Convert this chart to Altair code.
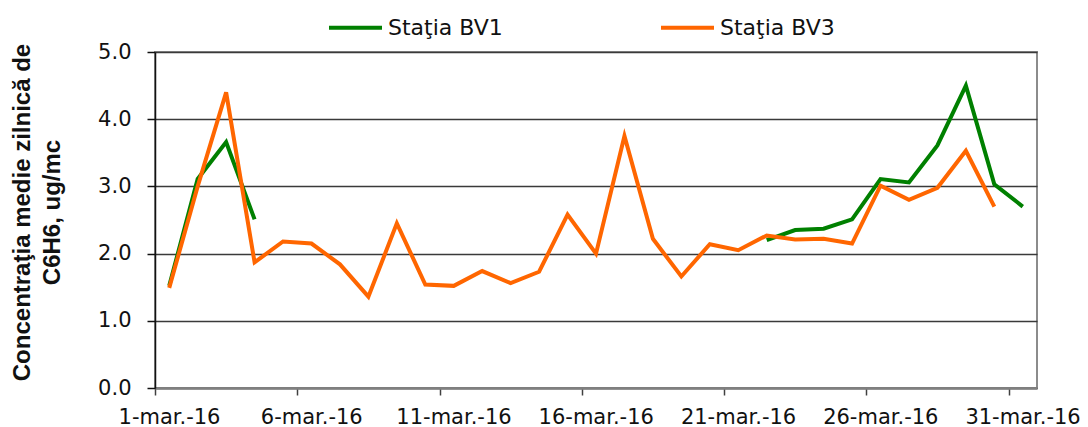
import altair as alt
import pandas as pd

days = list(range(1, 32))
bv1 = [1.52, 3.11, 3.66, 2.51,
       None, None, None, None, None, None, None, None, None, None,
       None, None, None, None, None, None, None,
       2.20, 2.35, 2.37, 2.51, 3.11, 3.06, 3.61, 4.50, 3.03, 2.70]
bv3 = [1.49, 3.00, 4.40, 1.87, 2.18, 2.15, 1.84, 1.36, 2.45, 1.54,
       1.52, 1.74, 1.56, 1.73, 2.58, 2.00, 3.75, 2.22, 1.66, 2.14, 2.05,
       2.27, 2.21, 2.22, 2.15, 3.01, 2.80, 2.98, 3.53, 2.70, None]
series_names = ["Staţia BV1", "Staţia BV3"]
series_colors = ["#008000", "#ff6600"]
tick_days = [1, 6, 11, 16, 21, 26, 31]
y_ticks = [0, 1, 2, 3, 4, 5]
y_title = ["Concentraţia medie zilnică de", "C6H6, ug/mc"]

rows = []
for name, vals in zip(series_names, [bv1, bv3]):
    seg = 0
    prev = None
    for d, v in zip(days, vals):
        if v is None:
            prev = None
            continue
        if prev is None:
            seg += 1
        rows.append({"day": d, "value": v, "series": name, "seg": f"{name}-{seg}"})
        prev = v
df = pd.DataFrame(rows)

FONT = "DejaVu Sans"

chart = alt.Chart(df).transform_calculate(
    t="utc(2016, 2, datum.day, 12)"
).mark_line(strokeWidth=4).encode(
    x=alt.X(
        "t:T",
        scale=alt.Scale(
            type="utc",
            domain=[alt.DateTime(year=2016, month=3, date=1, utc=True),
                    alt.DateTime(year=2016, month=4, date=1, utc=True)],
        ),
        axis=alt.Axis(
            values=[alt.DateTime(year=2016, month=3, date=d, utc=True) for d in tick_days],
            labelExpr="utcdate(datum.value) + '-mar.-16'",
            grid=False,
            domainColor="#808080",
            domainWidth=2.5,
            tickColor="#404040",
            tickWidth=1.5,
            tickSize=7,
            labelOffset=14,
            labelPadding=11,
            labelFlush=False,
            labelOverlap=False,
            labelBound=False,
            labelFont=FONT,
            labelFontSize=21,
            labelColor="#111111",
            labelAngle=0,
        ),
        title=None,
    ),
    y=alt.Y(
        "value:Q",
        scale=alt.Scale(domain=[0, 5], nice=False),
        axis=alt.Axis(
            values=y_ticks,
            format=".1f",
            grid=True,
            gridColor="#3a3a3a",
            gridWidth=1.3,
            domainColor="#111111",
            domainWidth=1.5,
            tickColor="#111111",
            tickWidth=1.5,
            tickSize=8,
            labelPadding=16,
            labelFont=FONT,
            labelFontSize=21,
            labelColor="#111111",
            titleFont="Liberation Sans",
            titleFontSize=24,
            titleFontWeight="bold",
            titleColor="#111111",
            titleAngle=270,
            titleAlign="center",
            titleBaseline="top",
            titleX=-145,
            titleY=160,
            titleLineHeight=30,
        ),
        title=y_title,
    ),
    color=alt.Color(
        "series:N",
        scale=alt.Scale(domain=series_names, range=series_colors),
        legend=alt.Legend(
            orient="none",
            legendX=172,
            legendY=-53,
            direction="horizontal",
            title=None,
            symbolType="stroke",
            symbolSize=2809,
            symbolStrokeWidth=4,
            labelFont=FONT,
            labelFontSize=22,
            labelColor="#111111",
            labelOffset=4,
            labelLimit=400,
            columnPadding=150,
            padding=0,
        ),
    ),
    detail="seg:N",
).properties(
    width=882,
    height=336,
    autosize=alt.AutoSizeParams(type="none"),
    padding={"left": 147, "top": 44, "right": 43, "bottom": 40},
).configure_view(
    stroke="#8c8c8c",
    strokeWidth=2,
)

chart.save("out.html", embed_options={"renderer": "svg", "actions": False})
